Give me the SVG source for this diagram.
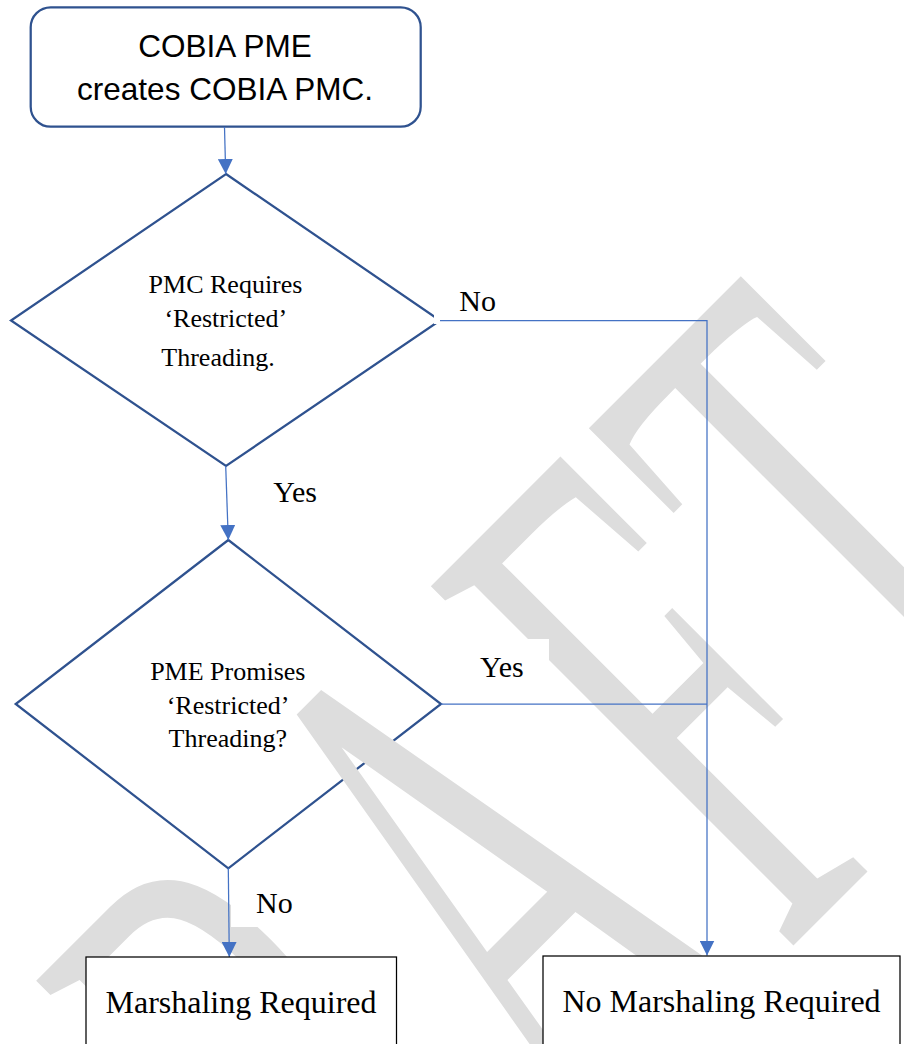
<svg xmlns="http://www.w3.org/2000/svg" width="904" height="1044" viewBox="0 0 904 1044">
<defs>
<marker id="arr" markerWidth="15" markerHeight="15" viewBox="0 0 15 15" refX="15" refY="7.5" orient="auto" markerUnits="userSpaceOnUse"><path d="M0,0 L15,7.5 L0,15 z" fill="#4472c4"/></marker>
</defs>
<style>
.node{fill:#fff;stroke:#2f528f;stroke-width:2.25}
.box{fill:#fff;stroke:#000;stroke-width:1.25}
.conn{fill:none;stroke:#4472c4;stroke-width:1.25}
.serif{font-family:"Liberation Serif","Times New Roman",serif;fill:#000}
.sans{font-family:"Liberation Sans",Arial,sans-serif;fill:#000;font-size:31.5px}
.dt{font-size:26px;text-anchor:middle}
.lbl{font-size:30px}
.bt{font-size:32px;text-anchor:middle}
.wm{font-family:"Liberation Serif","Times New Roman",serif;fill:#dddddd;font-kerning:none}
.lblbg{fill:#fff}
</style>
<rect x="0" y="0" width="904" height="1044" fill="#fff"/>
<g id="start">
<rect class="node" x="30.7" y="7.3" width="390" height="119.4" rx="20" ry="20"/>
<text class="sans" x="225" y="56.7" text-anchor="middle">COBIA PME</text>
<text class="sans" x="225" y="100" text-anchor="middle">creates COBIA PMC.</text>
</g>
<g id="decision1">
<polygon class="node" points="226,174 440,320.5 226,466 11,320.5"/>
<text class="serif dt" x="225.5" y="292.7">PMC Requires</text>
<text class="serif dt" x="225.8" y="326.7">‘Restricted’</text>
<text class="serif dt" x="218" y="365.5">Threading.</text>
</g>
<g id="decision2">
<polygon class="node" points="228.3,540 441,704 228.3,868.3 15.7,704"/>
<text class="serif dt" x="227.8" y="680">PME Promises</text>
<text class="serif dt" x="228" y="714">‘Restricted’</text>
<text class="serif dt" x="227.8" y="747.3">Threading?</text>
</g>
<g id="watermark">
<text class="wm" transform="translate(184.9 1554) rotate(-45) scale(1 2.09)" font-size="373" letter-spacing="20">DRAFT</text>
</g>
<g id="connectors">
<rect class="lblbg" x="248" y="463" width="94" height="52"/>
<rect class="lblbg" x="434" y="272" width="88" height="52"/>
<rect class="lblbg" x="455" y="639" width="94" height="52"/>
<rect class="lblbg" x="231" y="875" width="87" height="52"/>
<path class="conn" d="M224.5,127 L225.7,174" marker-end="url(#arr)"/>
<path class="conn" d="M225.7,466 L228.3,540" marker-end="url(#arr)"/>
<path class="conn" d="M440,320.5 L707,320.5 L707,955.5" marker-end="url(#arr)"/>
<path class="conn" d="M441,704 L707,704"/>
<path class="conn" d="M228.3,868.3 L229.3,957" marker-end="url(#arr)"/>
<text class="serif lbl" x="273.3" y="501.7">Yes</text>
<text class="serif lbl" x="459.3" y="310.7">No</text>
<text class="serif lbl" x="480" y="677.3">Yes</text>
<text class="serif lbl" x="256" y="913.3">No</text>
</g>
<g id="marshaling">
<rect class="box" x="86" y="957" width="310.5" height="100"/>
<text class="serif bt" x="241" y="1013.3">Marshaling Required</text>
</g>
<g id="no-marshaling">
<rect class="box" x="543" y="956" width="357" height="100"/>
<text class="serif bt" x="721.5" y="1012">No Marshaling Required</text>
</g>
</svg>
